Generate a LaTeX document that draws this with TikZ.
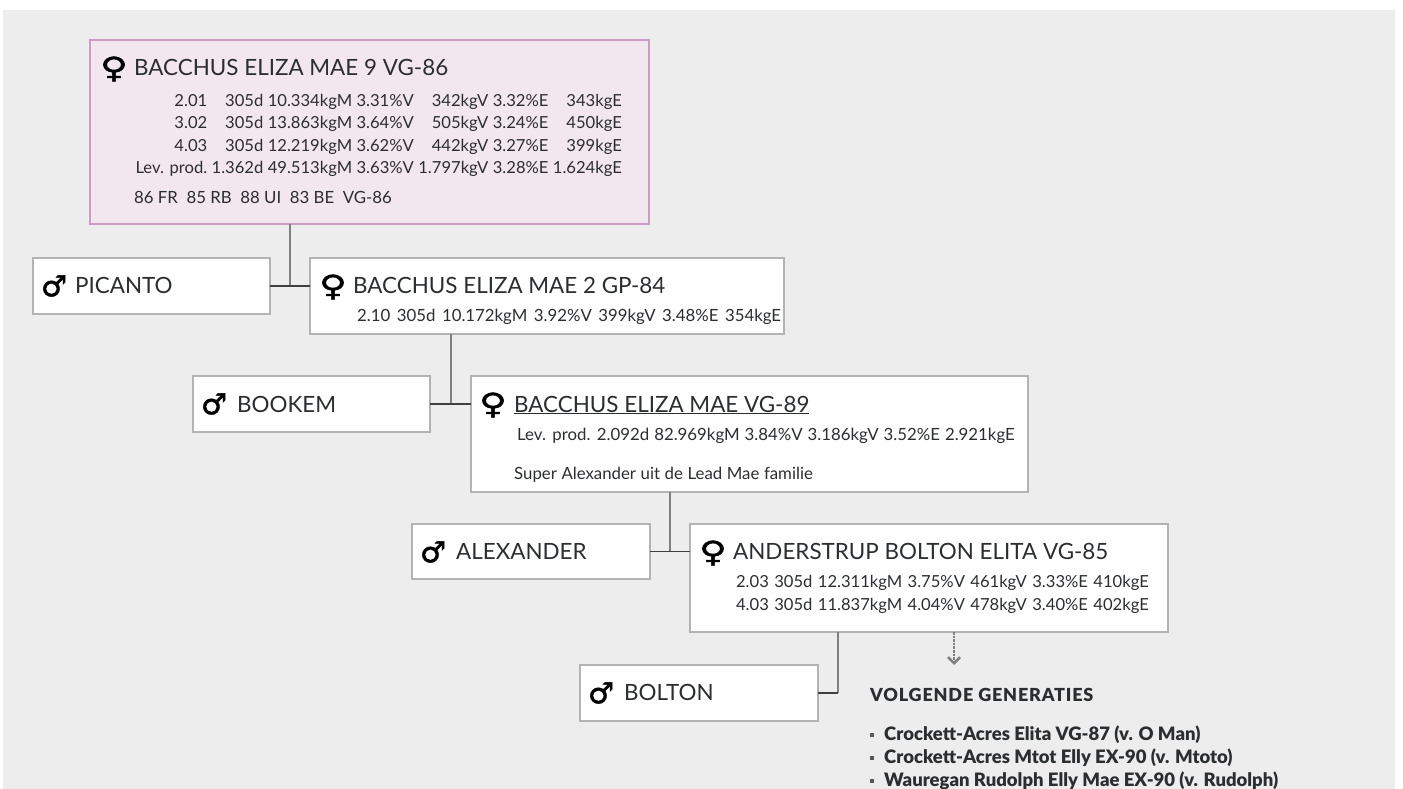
\documentclass[tikz,border=0pt]{standalone}
\usepackage{fontspec}
\usetikzlibrary{arrows.meta}
\setmainfont{Lato}
\newfontfamily\signfont[FakeBold=1.5]{DejaVu Sans Bold}
\newfontfamily\spacedfont[LetterSpace=4.5]{Lato Black}
\newfontfamily\heavyfont{Lato Black}
\definecolor{pagegrey}{HTML}{EDEDED}
\definecolor{framegrey}{HTML}{B3B3B3}
\definecolor{inkdark}{HTML}{2B2E31}
\definecolor{mainfill}{HTML}{F3E7EF}
\definecolor{mainframe}{HTML}{CC9CC4}
\newcommand{\femalesign}{\scalebox{1.3}[1]{\signfont\char"2640}}
\newcommand{\malesign}{\signfont\char"2642}
\tikzset{
  cowbox/.style={draw=framegrey, line width=1.6pt, fill=white, anchor=north west, inner sep=0pt, outer sep=0pt},
  mainbox/.style={cowbox, draw=mainframe, line width=2.4pt, fill=mainfill},
  title/.style={anchor=base west, inner sep=0pt, text=inkdark, font=\fontsize{22.4}{26}\selectfont},
  prod/.style={anchor=base west, inner sep=0pt, text=inkdark, font=\fontsize{16.8}{20}\selectfont},
  prodtable/.style={anchor=north east, inner sep=0pt, text=inkdark, font=\fontsize{16.6}{22.6}\selectfont},
  sign/.style={anchor=center, inner sep=0pt, text=black, font=\fontsize{29}{29}\selectfont},
  stem/.style={draw=black!50, line width=2.2pt},
  link/.style={draw=black!75, line width=1.6pt},
  nextgen/.style={anchor=base west, inner sep=0pt, text=inkdark, font=\fontsize{18.5}{21}\heavyfont},
  dot/.style={draw=none, fill=black!65, inner sep=0pt, minimum size=3.4pt}
}
\begin{document}
\begin{tikzpicture}[x=1pt, y=-1pt]
  \useasboundingbox (0,0) rectangle (1403,789);
  \fill[pagegrey] (3,10) rectangle (1395,789);

  \node[mainbox, minimum width=559pt, minimum height=184pt] (eliza9) at (90,40) {};
  \node[cowbox, minimum width=237pt, minimum height=56pt] (picanto) at (33,258) {};
  \node[cowbox, minimum width=474pt, minimum height=76pt] (eliza2) at (310,258) {};
  \node[cowbox, minimum width=237pt, minimum height=56pt] (bookem) at (193,376) {};
  \node[cowbox, minimum width=557pt, minimum height=116pt] (eliza) at (471,376) {};
  \node[cowbox, minimum width=238pt, minimum height=55pt] (alexander) at (412,524) {};
  \node[cowbox, minimum width=478pt, minimum height=108pt] (elita) at (690,524) {};
  \node[cowbox, minimum width=238pt, minimum height=56pt] (bolton) at (580,665) {};

  \node[sign] (sign9) at (114,69) {\femalesign};
  \node[title] (name9) at (134,75.5) {BACCHUS ELIZA MAE 9 VG-86};
  \node[prodtable] (table9) at (622,90) {\setlength{\tabcolsep}{2.2pt}\begin{tabular}{@{}rrrrrrr@{}}
    2.01 & 305d & 10.334kgM & 3.31\%V & 342kgV & 3.32\%E & 343kgE\\
    3.02 & 305d & 13.863kgM & 3.64\%V & 505kgV & 3.24\%E & 450kgE\\
    4.03 & 305d & 12.219kgM & 3.62\%V & 442kgV & 3.27\%E & 399kgE\\
    Lev. prod. & 1.362d & 49.513kgM & 3.63\%V & 1.797kgV & 3.28\%E & 1.624kgE
  \end{tabular}};
  \node[prod] (score9) at (134,203) {86 FR\ \ 85 RB\ \ 88 UI\ \ 83 BE\ \ VG-86};

  \node[sign] (signp) at (54,286) {\malesign};
  \node[title] (namep) at (75,293.5) {PICANTO};

  \node[sign] (sign2) at (333,287) {\femalesign};
  \node[title] (name2) at (353,293.5) {BACCHUS ELIZA MAE 2 GP-84};
  \node[prod] (prod2) at (357,321) {\spaceskip=6.5pt 2.10 305d 10.172kgM 3.92\%V 399kgV 3.48\%E 354kgE};

  \node[sign] (signb) at (214,404) {\malesign};
  \node[title] (nameb) at (237,412) {BOOKEM};

  \node[sign] (signe) at (493,405) {\femalesign};
  \node[title] (namee) at (514,412) {\underline{BACCHUS ELIZA MAE VG-89}};
  \node[prod] (prode) at (517,440) {\spaceskip=5pt Lev. prod. 2.092d 82.969kgM 3.84\%V 3.186kgV 3.52\%E 2.921kgE};
  \node[prod] (notee) at (514,479) {\spaceskip=4.6pt Super Alexander uit de Lead Mae familie};

  \node[sign] (signa) at (433,552) {\malesign};
  \node[title] (namea) at (456,559.5) {ALEXANDER};

  \node[sign] (signl) at (713,553) {\femalesign};
  \node[title] (namel) at (733,559.5) {ANDERSTRUP BOLTON ELITA VG-85};
  \node[prodtable] (tablel) at (1149,571.5) {\setlength{\tabcolsep}{2.7pt}\begin{tabular}{@{}rrrrrrr@{}}
    2.03 & 305d & 12.311kgM & 3.75\%V & 461kgV & 3.33\%E & 410kgE\\
    4.03 & 305d & 11.837kgM & 4.04\%V & 478kgV & 3.40\%E & 402kgE
  \end{tabular}};

  \node[sign] (signo) at (601,693) {\malesign};
  \node[title] (nameo) at (624,700.5) {BOLTON};

  \coordinate (join9) at (290,0);
  \coordinate (join2) at (451,0);
  \coordinate (joine) at (670,0);
  \coordinate (joinl) at (838,0);
  \coordinate (nextend) at (954,665);

  \draw[stem] (eliza9.south -| join9) -- (picanto.east -| join9);
  \draw[link] (picanto.east) -- (picanto.east -| eliza2.west);
  \draw[stem] (eliza2.south -| join2) -- (bookem.east -| join2);
  \draw[link] (bookem.east) -- (bookem.east -| eliza.west);
  \draw[stem] (eliza.south -| joine) -- (alexander.east -| joine);
  \draw[link] (alexander.east) -- (alexander.east -| elita.west);
  \draw[stem] (elita.south -| joinl) -- (bolton.east -| joinl);
  \draw[link] (bolton.east) -- (bolton.east -| joinl);
  \draw[draw=black!50, line width=2.6pt, densely dotted, -{Straight Barb[length=6pt, width=12pt]}] (elita.south -| nextend) -- (nextend);

  \node[anchor=base west, inner sep=0pt, text=inkdark, font=\fontsize{18}{22}\spacedfont] (nexthead) at (870,701) {VOLGENDE GENERATIES};
  \node[dot] (dot1) at (872,735) {};
  \node[nextgen] (next1) at (884,740.5) {Crockett-Acres Elita VG-87 (v. O Man)};
  \node[dot] (dot2) at (872,758) {};
  \node[nextgen] (next2) at (884,763.5) {Crockett-Acres Mtot Elly EX-90 (v. Mtoto)};
  \node[dot] (dot3) at (872,781) {};
  \node[nextgen] (next3) at (884,786.5) {Wauregan Rudolph Elly Mae EX-90 (v. Rudolph)};
\end{tikzpicture}
\end{document}
